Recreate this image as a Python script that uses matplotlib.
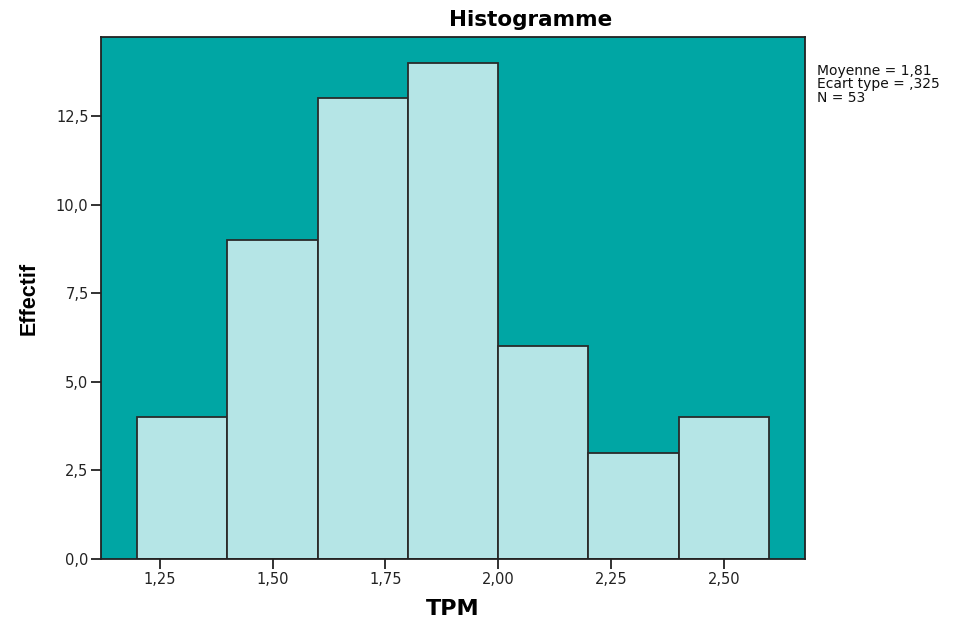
import matplotlib
matplotlib.use("Agg")
import matplotlib.pyplot as plt
from matplotlib.ticker import FuncFormatter

plt.rcParams['font.family'] = ['DejaVu Sans']

# Histogram of TPM: bin edges and counts
bin_edges = [1.2, 1.4, 1.6, 1.8, 2.0, 2.2, 2.4, 2.6]
counts = [4, 9, 13, 14, 6, 3, 4]
x_ticks = [1.25, 1.50, 1.75, 2.00, 2.25, 2.50]
y_ticks = [0.0, 2.5, 5.0, 7.5, 10.0, 12.5]
stats_text = "Moyenne = 1,81\nEcart type = ,325\nN = 53"

fig = plt.figure(figsize=(9.63, 6.19), dpi=100)
ax = fig.add_axes([0.1049, 0.0969, 0.7311, 0.8431])
ax.set_facecolor('#00a6a4')

widths = [bin_edges[i + 1] - bin_edges[i] for i in range(len(counts))]
ax.bar(bin_edges[:-1], counts, width=widths, align='edge',
       color='#b5e5e6', edgecolor='#2a2a2a', linewidth=1.3, zorder=2)

ax.set_xlim(1.12, 2.68)
ax.set_ylim(0, 14.73)
ax.set_xticks(x_ticks)
ax.set_yticks(y_ticks)

comma = lambda fmt: FuncFormatter(lambda v, p: (fmt % v).replace('.', ','))
ax.xaxis.set_major_formatter(comma('%.2f'))
ax.yaxis.set_major_formatter(comma('%.1f'))
ax.tick_params(axis='both', direction='out', length=7, width=1.3,
               labelsize=10.5, colors='#222222', pad=2)

for s in ax.spines.values():
    s.set_color('#222222')
    s.set_linewidth(1.3)

ax.set_xlabel('TPM', fontsize=16, fontweight='bold', labelpad=9)
ax.set_ylabel('Effectif', fontsize=15.5, fontweight='bold', labelpad=12,
              family=['Liberation Sans', 'DejaVu Sans'])
fig.text(0.551, 0.958, 'Histogramme', fontsize=15.5, fontweight='bold',
         ha='center', va='baseline')

fig.text(0.848, 0.897, stats_text, fontsize=10, va='top', ha='left',
         linespacing=0.95, color='#111111')

fig.savefig('out.png', dpi=100)
